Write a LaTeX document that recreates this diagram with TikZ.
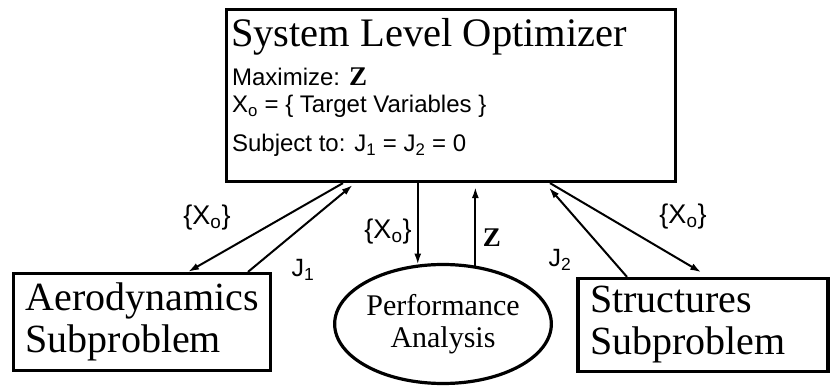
\documentclass[tikz,border=0pt]{standalone}
\usepackage{fontspec}
\setmainfont{Liberation Serif}
\setsansfont{Liberation Sans}
\usetikzlibrary{positioning,shapes.geometric,arrows.meta,calc}

\begin{document}
\begin{tikzpicture}[
    x=1pt, y=1pt,
    box/.style={rectangle, draw, line width=3.2pt, inner sep=0pt},
    subbox/.style={rectangle, draw, line width=3.2pt, inner xsep=12pt, inner ysep=0pt,
                   align=left, font=\fontsize{40}{42}\selectfont},
    optline/.style={anchor=base west, inner sep=0pt, font=\sffamily\fontsize{24}{26}\selectfont},
    arrow/.style={-{Latex[length=11pt,width=7pt]}, line width=2pt},
    varlabel/.style={font=\sffamily\fontsize{27}{29}\selectfont, inner sep=0pt},
    jlabel/.style={font=\sffamily\fontsize{25}{27}\selectfont, inner sep=0pt}
]
\useasboundingbox (0,0) rectangle (831,386);

% Blocks
\node[box, minimum width=449pt, minimum height=172pt] (slo) at (451,290.5) {};
\node[subbox, text width=233pt, minimum height=97pt] (aero) at (142,64) {Aerodynamics\\Subproblem};
\node[ellipse, draw, line width=3.2pt, inner sep=0pt, minimum width=177pt, minimum height=119pt,
      align=center, font=\fontsize{30}{32}\selectfont] (perf) at (443,62) {Performance\\Analysis};
\node[subbox, text width=226pt, minimum height=93pt] (struct) at (703,61) {Structures\\Subproblem};

% Optimizer text
\node[anchor=base west, inner sep=0pt, font=\fontsize{40.5}{40}\selectfont] (title)
    at ($(slo.north west)+(6,-39)$) {System Level Optimizer};
\node[optline] (maxz) at ($(slo.north west)+(7,-78)$) {Maximize: {\rmfamily\bfseries\fontsize{27}{27}\selectfont Z}};
\node[optline] (target) at ($(slo.north west)+(7,-105)$) {X\textsubscript{o} = \{ Target Variables \}};
\node[optline] (subj) at ($(slo.north west)+(7,-144)$) {Subject to: J\textsubscript{1} = J\textsubscript{2} = 0};

% Arrows
\draw[arrow] ([xshift=-108pt]slo.south) -- ([xshift=46pt]aero.north);
\draw[arrow, shorten >=3pt] ([xshift=106pt]aero.north) -- ([xshift=-96pt]slo.south);
\draw[arrow] (perf.113 |- slo.south) -- (perf.113);
\draw[arrow, shorten >=4pt] (perf.61) -- (perf.61 |- slo.south);
\draw[arrow, shorten >=6pt] ([xshift=-76pt]struct.north) -- ([xshift=94pt]slo.south);
\draw[arrow, shorten >=9pt] ([xshift=99pt]slo.south) -- ([xshift=6pt]struct.north);

% Labels
\node[varlabel] (xaero) at (207,168) {\{X\textsubscript{o}\}};
\node[jlabel] (jaero) at (303,116) {J\textsubscript{1}};
\node[varlabel] (xperf) at (388,154) {\{X\textsubscript{o}\}};
\node[inner sep=0pt, font=\rmfamily\bfseries\fontsize{27}{27}\selectfont] (zperf) at (492,148) {Z};
\node[jlabel] (jstruct) at (560,126) {J\textsubscript{2}};
\node[varlabel] (xstruct) at (683,169) {\{X\textsubscript{o}\}};

\end{tikzpicture}
\end{document}
